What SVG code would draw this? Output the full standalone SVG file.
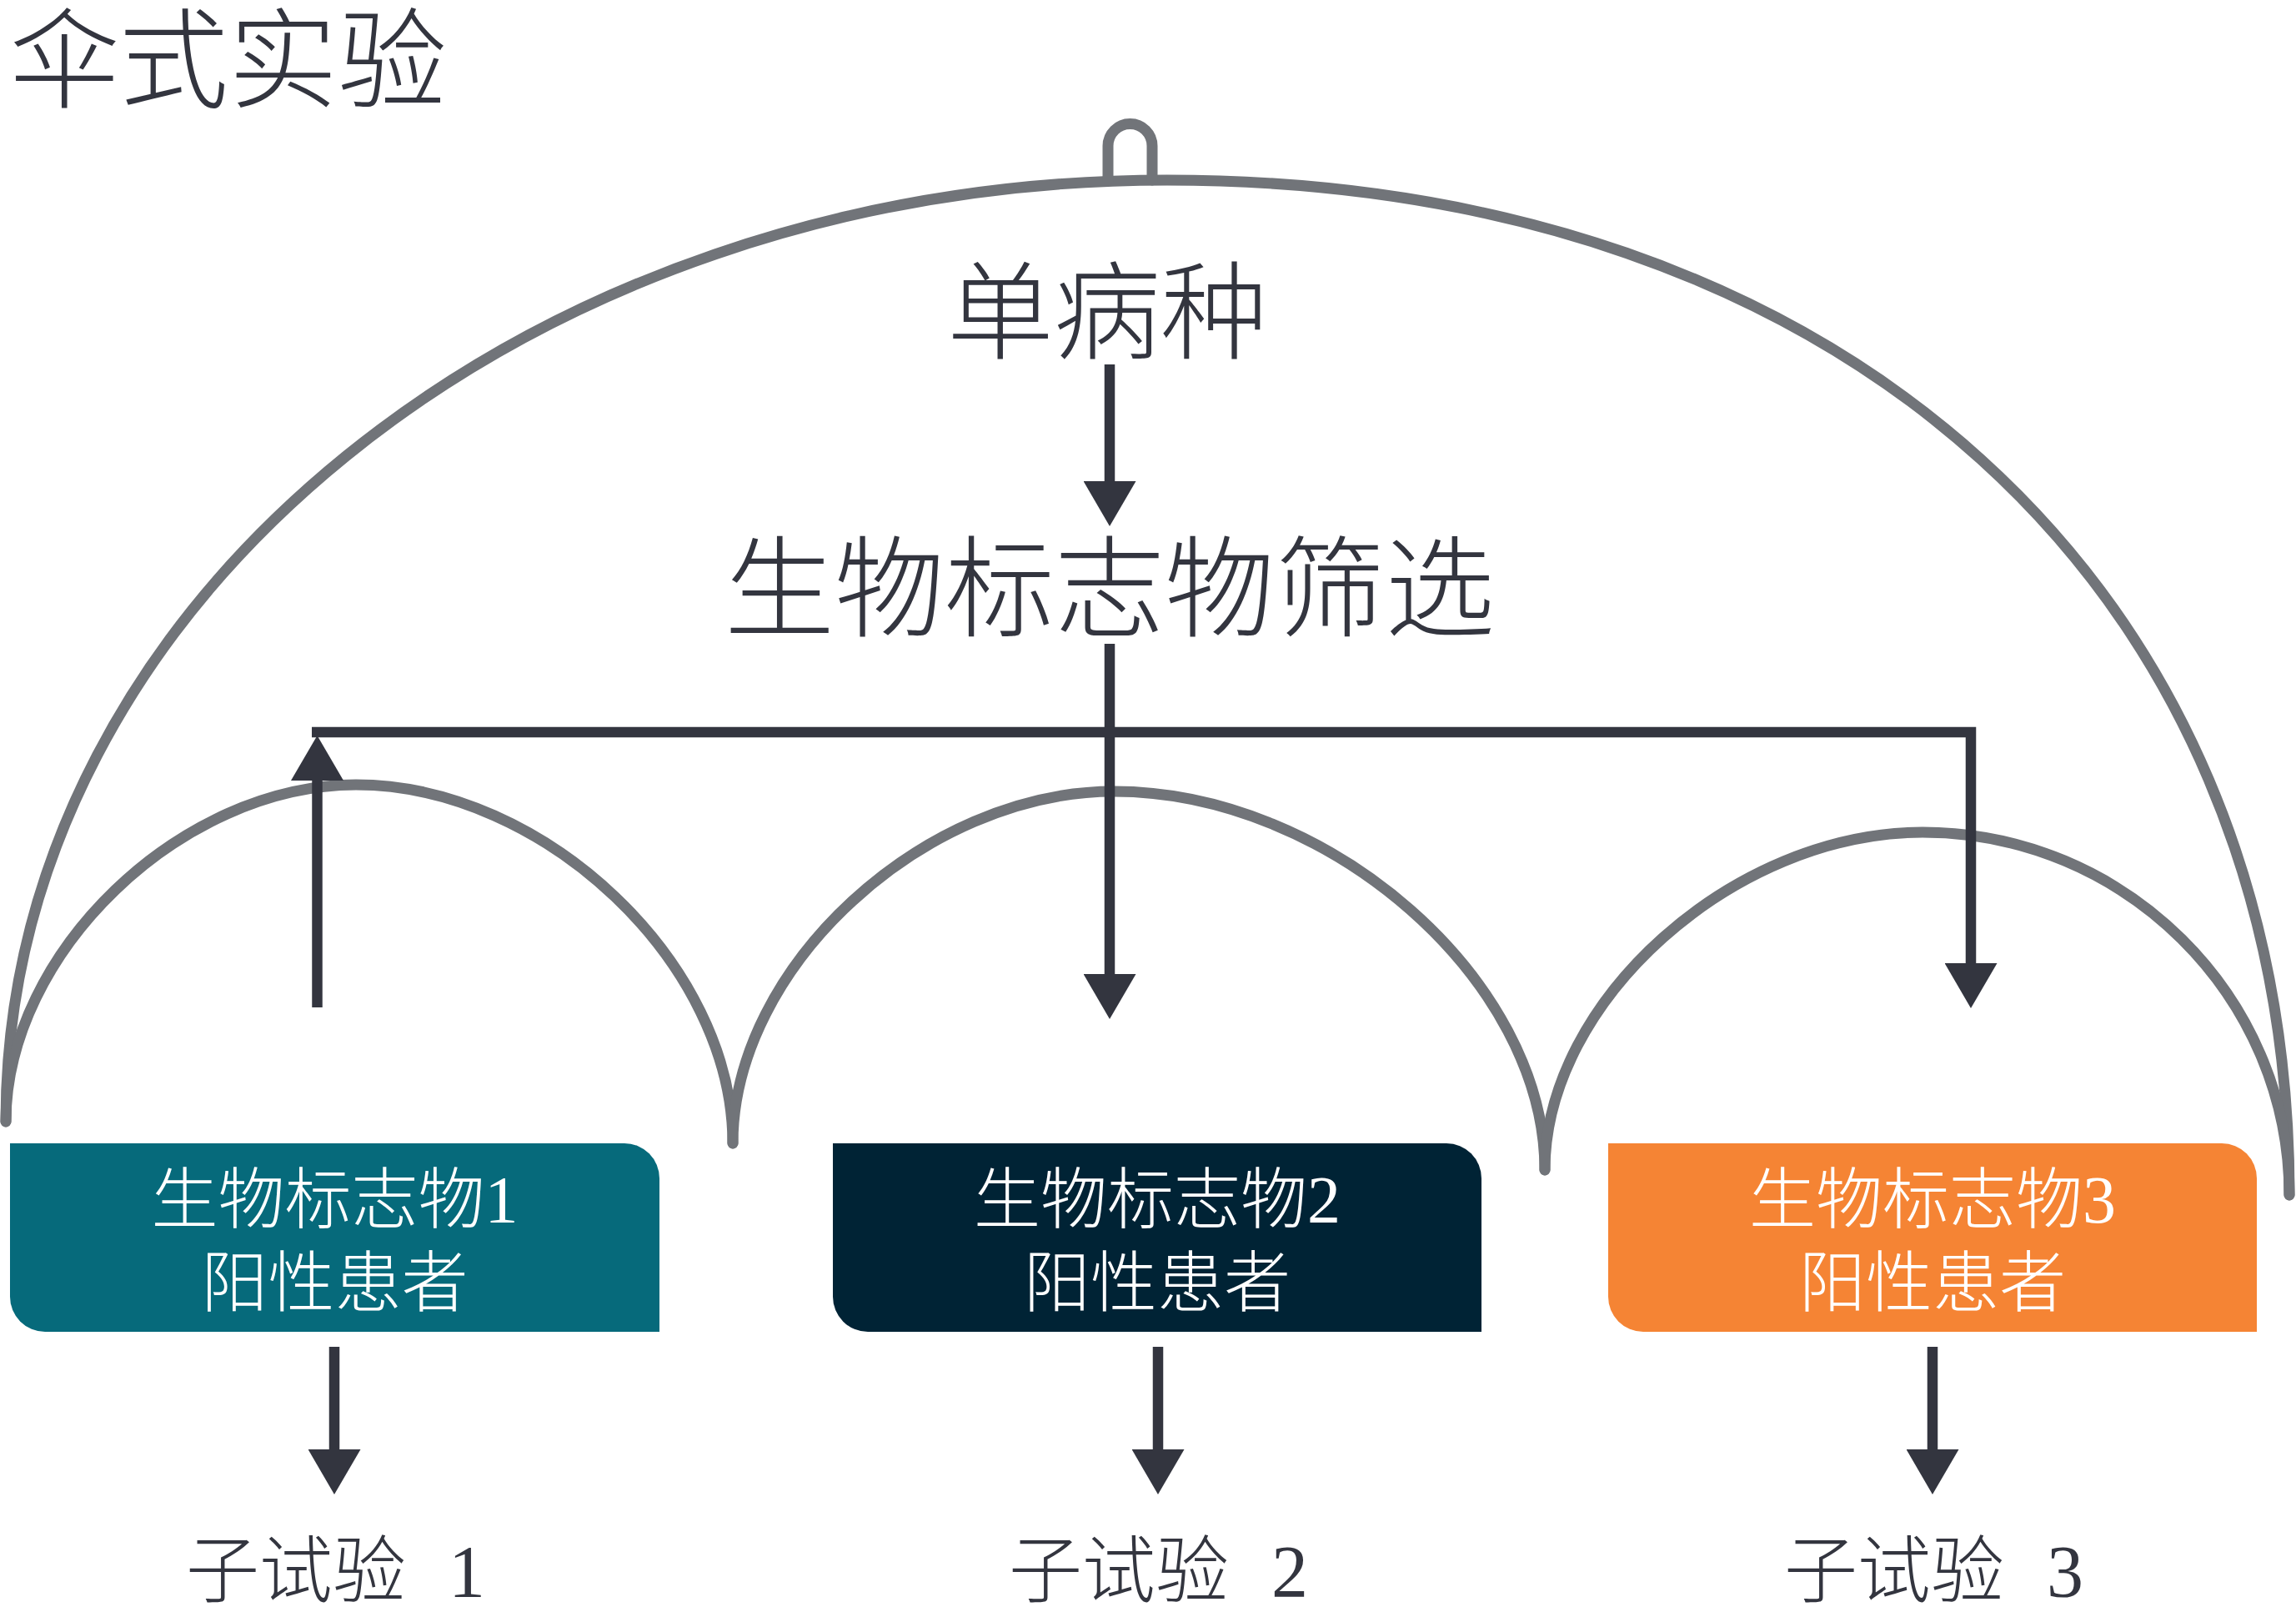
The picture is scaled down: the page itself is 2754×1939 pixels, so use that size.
<svg xmlns="http://www.w3.org/2000/svg" width="2754" height="1939" viewBox="0 0 2754 1939">
  <defs>
    <style>
      .arc { fill: none; stroke: #717479; stroke-width: 13; stroke-linecap: round; }
      .conn { fill: none; stroke: #33353f; stroke-width: 12.5; stroke-linecap: butt; stroke-linejoin: miter; }
      .dark { fill: #33353f; font-family: "Liberation Serif", "Noto Sans CJK SC", sans-serif; font-weight: 300; }
      .white { fill: #ffffff; font-family: "Liberation Serif", "Noto Sans CJK SC", sans-serif; font-weight: 300; font-size: 80px; text-anchor: middle; }
      .sub { font-size: 88px; }
    </style>
    <marker id="ah" markerUnits="userSpaceOnUse" markerWidth="54" markerHeight="63" viewBox="0 0 54 63" refX="0" refY="31.5" orient="auto">
      <path d="M0,0 L54,31.5 L0,63 Z" fill="#33353f"/>
    </marker>
  </defs>
  <rect width="2754" height="1939" fill="#ffffff"/>

  <g id="title">
    <text class="dark" x="12" y="119" font-size="131">伞式实验</text>
  </g>

  <g id="umbrella">
    <path class="arc" d="M7,1345 C7,722 631,216 1400,216 C2208,216 2746,703 2746,1433"/>
    <path class="arc" d="M1329,216 V175 A26.5,26.5 0 0 1 1382,175 V216" stroke-width="12"/>
    <path class="arc" d="M7,1345 C7,1143 217,941 427,941 C653,941 879,1156 879,1371"/>
    <path class="arc" d="M879,1371 C879,1160 1108,949 1336,949 C1595,949 1853,1176 1853,1403"/>
    <path class="arc" d="M1853,1403 C1853,1200 2080,998 2306,998 C2548,998 2746,1194 2746,1433"/>
  </g>

  <g id="node-single-disease">
    <text class="dark" x="1328" y="421" font-size="128" text-anchor="middle">单病种</text>
  </g>

  <g id="node-screening">
    <text class="dark" x="1331" y="753" font-size="132" text-anchor="middle">生物标志物筛选</text>
  </g>

  <g id="node-bm1">
    <path d="M12,1371 H749 A42,42 0 0 1 791,1413 V1597 H54 A42,42 0 0 1 12,1555 Z" fill="#066a7b"/>
    <text class="white" x="401.5" y="1466">生物标志物1</text>
    <text class="white" x="401.5" y="1566">阳性患者</text>
  </g>

  <g id="node-bm2">
    <path d="M999,1371 H1735 A42,42 0 0 1 1777,1413 V1597 H1041 A42,42 0 0 1 999,1555 Z" fill="#002335"/>
    <text class="white" x="1388" y="1466">生物标志物2</text>
    <text class="white" x="1388" y="1566">阳性患者</text>
  </g>

  <g id="node-bm3">
    <path d="M1929,1371 H2665 A42,42 0 0 1 2707,1413 V1597 H1971 A42,42 0 0 1 1929,1555 Z" fill="#f58434"/>
    <text class="white" x="2318" y="1466">生物标志物3</text>
    <text class="white" x="2318" y="1566">阳性患者</text>
  </g>

  <g id="node-sub1">
    <text class="dark sub" x="223" y="1914">子试验 <tspan x="538">1</tspan></text>
  </g>
  <g id="node-sub2">
    <text class="dark sub" x="1210" y="1914">子试验 <tspan x="1525">2</tspan></text>
  </g>
  <g id="node-sub3">
    <text class="dark sub" x="2140" y="1914">子试验 <tspan x="2455">3</tspan></text>
  </g>

  <g id="connectors">
    <path class="conn" d="M1331,437 V577" marker-end="url(#ah)"/>
    <path class="conn" d="M1331,772 V1168" marker-end="url(#ah)"/>
    <path class="conn" d="M374,878 H2364 V1155" marker-end="url(#ah)"/>
    <path class="conn" d="M380.5,1208 V936" marker-end="url(#ah)"/>
    <path class="conn" d="M401,1615 V1738" marker-end="url(#ah)"/>
    <path class="conn" d="M1389,1615 V1738" marker-end="url(#ah)"/>
    <path class="conn" d="M2318,1615 V1738" marker-end="url(#ah)"/>
  </g>
</svg>
